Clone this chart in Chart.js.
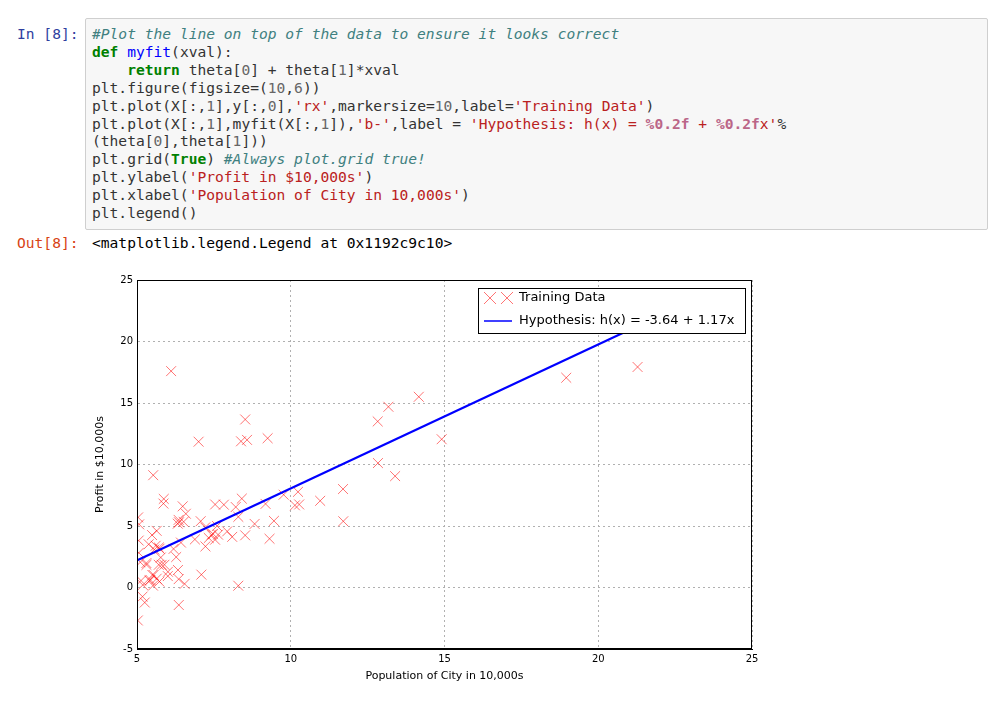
<!DOCTYPE html>
<html><head><meta charset="utf-8">
<script src="https://cdn.jsdelivr.net/npm/chart.js@4/dist/chart.umd.min.js"></script>
<style>
body{margin:0;background:#fff;width:998px;height:704px;position:relative;overflow:hidden;font-family:"DejaVu Sans Mono",monospace;}
.p{position:absolute;font-size:14.6px;}
#code{position:absolute;left:85px;top:18px;width:901px;height:210px;background:#f7f7f7;border:1px solid #cfcfcf;border-radius:2px;}
pre{margin:0;position:absolute;left:6px;top:6px;font-family:"DejaVu Sans Mono",monospace;font-size:14.6px;line-height:17.9px;color:#333;}
.c{color:#408080;font-style:italic}.k{color:#008000;font-weight:bold}.f{color:#0000ff}.n{color:#666}.s{color:#BA2121}.i{color:#BB6688;font-weight:bold}
#wrap{position:absolute;left:90px;top:262px;width:680px;height:425px;}
</style></head><body>
<div class="p" style="left:17px;top:25px;color:#303F9F">In [8]:</div>
<div id="code"><pre><span class="c">#Plot the line on top of the data to ensure it looks correct</span>
<span class="k">def</span> <span class="f">myfit</span>(xval):
    <span class="k">return</span> theta[<span class="n">0</span>] + theta[<span class="n">1</span>]*xval
plt.figure(figsize=(<span class="n">10</span>,<span class="n">6</span>))
plt.plot(X[:,<span class="n">1</span>],y[:,<span class="n">0</span>],<span class="s">'rx'</span>,markersize=<span class="n">10</span>,label=<span class="s">'Training Data'</span>)
plt.plot(X[:,<span class="n">1</span>],myfit(X[:,<span class="n">1</span>]),<span class="s">'b-'</span>,label = <span class="s">'Hypothesis: h(x) = </span><span class="i">%0.2f</span><span class="s"> + </span><span class="i">%0.2f</span><span class="s">x'</span>%
(theta[<span class="n">0</span>],theta[<span class="n">1</span>]))
plt.grid(<span class="k">True</span>) <span class="c">#Always plot.grid true!</span>
plt.ylabel(<span class="s">'Profit in $10,000s'</span>)
plt.xlabel(<span class="s">'Population of City in 10,000s'</span>)
plt.legend()</pre></div>
<div class="p" style="left:17px;top:234px;color:#D84315">Out[8]:</div>
<div class="p" style="left:92px;top:234px;color:#000">&lt;matplotlib.legend.Legend at 0x1192c9c10&gt;</div>
<div id="wrap"><canvas id="c" width="680" height="425"></canvas></div>
<script>
const popX=[6.1101,5.5277,8.5186,7.0032,5.8598,8.3829,7.4764,8.5781,6.4862,5.0546,5.7107,14.164,5.734,8.4084,5.6407,5.3794,6.3654,5.1301,6.4296,7.0708,6.1891,5.4901,6.3261,5.5649,12.828,10.957,13.176,5.2524,6.5894,9.2482,5.8918,8.2111,7.9334,8.0959,5.6063,12.836,6.3534,5.4069,6.8825,11.708,5.7737,7.8247,7.0931,5.0702,5.8014,11.7,5.5416,7.5402,5.3077,7.4239,7.6031,6.3328,6.3589,6.2742,5.6397,9.3102,9.4536,8.8254,5.1793,21.279,14.908,18.959,7.2182,8.2951,10.236,5.4994,10.136,7.3345,6.0062,7.2259,5.0269,6.5479,7.5386,5.0365,10.274,5.1077,5.7292,5.1884,6.3557,9.7687,6.5159,8.5172,9.1802,6.002,5.5204,5.0594,5.7077,7.6366,5.8707,5.3054,8.2934,13.394,5.4369];
const profitY=[17.592,9.1302,13.662,11.854,6.8233,11.886,4.3483,12,6.5987,3.8166,3.2522,15.505,3.1551,7.2258,0.71618,3.5129,5.3048,0.56077,3.6518,5.3893,3.1386,4.263,5.1875,3.0825,13.501,7.0467,14.692,-1.22,5.9966,12.134,1.8495,6.5426,4.5623,4.1164,3.3928,10.117,5.4974,0.55657,3.9115,5.3854,2.4406,6.7318,1.0463,5.1337,1.844,8.0043,1.0179,6.7504,1.8396,4.2885,4.9981,1.4233,-1.4211,2.4756,4.6042,3.9624,5.4141,5.1694,-0.74279,17.929,12.054,17.054,4.8852,5.7442,7.7754,1.0173,6.6799,4.0259,1.2784,3.3411,-2.6807,0.29678,3.8845,5.7014,6.7526,2.0576,0.47953,0.20421,0.67861,7.5435,5.3436,4.2415,6.7981,0.92695,0.152,2.8214,1.8451,4.2959,7.2029,1.9869,0.14454,9.0551,0.61705];
const fitX=[5.0269,22.203];
const fitY=[2.24,22.34];
const xTicks=[5,10,15,20,25];
const yTicks=[-5,0,5,10,15,20,25];
const legendLabels=['Training Data','Hypothesis: h(x) = -3.64 + 1.17x'];

const legendPlugin={id:'mplLegend',afterDatasetsDraw(ch){
  const ctx=ch.ctx;
  const x0=478-90,y0=288-262,w=267,h=45;
  ctx.save();ctx.fillStyle='#fff';ctx.strokeStyle='#000';ctx.lineWidth=1;
  ctx.fillRect(x0,y0,w,h);ctx.strokeRect(x0+0.5,y0+0.5,w,h);
  ctx.strokeStyle='rgba(255,0,0,0.55)';
  [[490-90,298-262],[507-90,298-262]].forEach(([cx,cy])=>{ctx.beginPath();ctx.moveTo(cx-6,cy-6);ctx.lineTo(cx+6,cy+6);ctx.moveTo(cx+6,cy-6);ctx.lineTo(cx-6,cy+6);ctx.stroke();});
  ctx.strokeStyle='#0000ff';ctx.lineWidth=1.5;ctx.beginPath();ctx.moveTo(484-90,321-262);ctx.lineTo(512-90,321-262);ctx.stroke();
  ctx.fillStyle='#000';ctx.font='13px "DejaVu Sans"';ctx.textBaseline='middle';
  ctx.fillText(legendLabels[0],519-90,298-262);ctx.fillText(legendLabels[1],519-90,321-262);
  ctx.restore();}};

new Chart(document.getElementById('c'),{
 data:{datasets:[
  {type:'scatter',label:legendLabels[0],data:popX.map((x,i)=>({x,y:profitY[i]})),pointStyle:'crossRot',pointRadius:7,borderColor:'rgba(255,0,0,0.55)',backgroundColor:'rgba(255,0,0,0.55)',pointBorderWidth:1,order:2},
  {type:'line',label:legendLabels[1],data:fitX.map((x,i)=>({x,y:fitY[i]})),borderColor:'#0000ff',borderWidth:2.2,pointRadius:0,order:1}
 ]},
 options:{responsive:false,animation:false,events:[],
  layout:{padding:{top:18,right:18,left:0,bottom:0}},
  plugins:{legend:{display:false},tooltip:{enabled:false}},
  scales:{
   x:{type:'linear',min:5,max:25,afterBuildTicks(s){s.ticks=xTicks.map(v=>({value:v}));},
      afterFit(s){s.height=38;},
      border:{color:'#000',width:1,dash:[2,3]},
      grid:{color:'#b0b0b0',drawTicks:false},
      ticks:{color:'#000',font:{family:'DejaVu Sans',size:10},padding:4},
      title:{display:true,text:'Population of City in 10,000s',color:'#000',font:{family:'DejaVu Sans',size:11},padding:{top:4}}},
   y:{type:'linear',min:-5,max:25,afterBuildTicks(s){s.ticks=yTicks.map(v=>({value:v}));},
      afterFit(s){s.width=47;},
      border:{color:'#000',width:1,dash:[2,3]},
      grid:{color:'#b0b0b0',drawTicks:false},
      ticks:{color:'#000',font:{family:'DejaVu Sans',size:10},padding:4},
      title:{display:true,text:'Profit in $10,000s',color:'#000',font:{family:'DejaVu Sans',size:11},padding:{bottom:4}}}
  }},
 plugins:[legendPlugin,{id:'frame',afterDraw(ch){const c=ch.ctx,a=ch.chartArea;c.save();c.strokeStyle='#000';c.lineWidth=1;c.strokeRect(a.left+0.5,a.top+0.5,a.right-a.left-1,a.bottom-a.top-1);c.restore();}}]
});
</script></body></html>
